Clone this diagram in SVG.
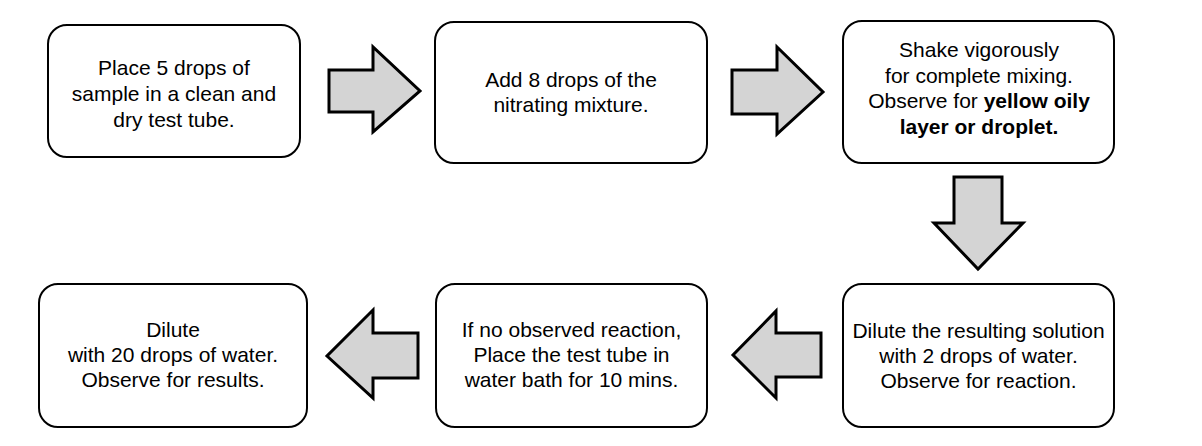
<svg xmlns="http://www.w3.org/2000/svg" width="1202" height="446" viewBox="0 0 1202 446">
<style>
.box{fill:#fff;stroke:#000;stroke-width:2}
.arr{fill:#d4d4d4;stroke:#000;stroke-width:3;stroke-linejoin:miter}
text{font-family:"Liberation Sans",Arial,Helvetica,sans-serif;font-size:21px;fill:#000;text-anchor:middle}
.b{font-weight:bold}
</style>
<rect width="1202" height="446" fill="#fff"/>
<g id="connectors">
<path class="arr" d="M329,70 H373 V47 L420,91 L373,132 V112 H329 Z"/>
<path class="arr" d="M732,70 H777 V47 L823,92 L777,134 V114 H732 Z"/>
<path class="arr" d="M954,177 V223 H934 L978,269 L1023,223 H1002 V177 Z"/>
<path class="arr" d="M821,333 H776 V311 L733,355 L776,398 V377 H821 Z"/>
<path class="arr" d="M418,333 H373 V310 L327,356 L373,398 V378 H418 Z"/>
</g>
<g id="n1">
<rect class="box" x="48" y="25" width="252" height="132" rx="19"/>
<text x="174" y="75">Place 5 drops of</text>
<text x="174" y="101">sample in a clean and</text>
<text x="174" y="127">dry test tube.</text>
</g>
<g id="n2">
<rect class="box" x="435" y="22" width="272" height="141" rx="19"/>
<text x="571" y="87">Add 8 drops of the</text>
<text x="571" y="112">nitrating mixture.</text>
</g>
<g id="n3">
<rect class="box" x="843" y="21" width="271" height="142" rx="19"/>
<text x="979" y="57">Shake vigorously</text>
<text x="979" y="82.5">for complete mixing.</text>
<text x="979" y="108">Observe for <tspan class="b">yellow oily</tspan></text>
<text x="979" y="133.5" class="b">layer or droplet.</text>
</g>
<g id="n4">
<rect class="box" x="39" y="284" width="268" height="143" rx="19"/>
<text x="173" y="337">Dilute</text>
<text x="173" y="362">with 20 drops of water.</text>
<text x="173" y="387">Observe for results.</text>
</g>
<g id="n5">
<rect class="box" x="436" y="284" width="271" height="143" rx="19"/>
<text x="571.5" y="337">If no observed reaction,</text>
<text x="571.5" y="362">Place the test tube in</text>
<text x="571.5" y="387">water bath for 10 mins.</text>
</g>
<g id="n6">
<rect class="box" x="843" y="284" width="271" height="143" rx="19"/>
<text x="978.5" y="338">Dilute the resulting solution</text>
<text x="978.5" y="363">with 2 drops of water.</text>
<text x="978.5" y="388">Observe for reaction.</text>
</g>
</svg>
